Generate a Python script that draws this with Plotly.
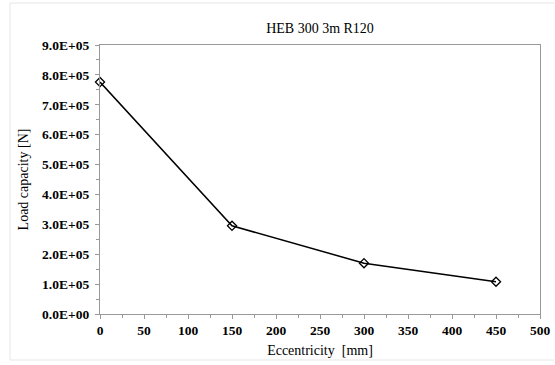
import plotly.graph_objects as go

eccentricity = [0, 150, 300, 450]
load_capacity = [7.76e5, 2.95e5, 1.70e5, 1.08e5]
x_ticks = [0, 50, 100, 150, 200, 250, 300, 350, 400, 450, 500]
y_ticks = [i * 1e5 for i in range(10)]
y_tick_labels = ["%.1fE+05" % (v / 1e5) if v > 0 else "0.0E+00" for v in y_ticks]

L, R, T, B = 100, 15, 45, 51
W, H = 555, 365
pw, ph = W - L - R, H - T - B

fig = go.Figure()
fig.add_trace(go.Scatter(
    x=eccentricity, y=load_capacity, mode="lines+markers",
    line=dict(color="black", width=1.5),
    marker=dict(symbol="diamond-open", size=7, color="black", line=dict(width=1.3)),
    showlegend=False, cliponaxis=False,
))

font_serif = "Liberation Serif"
axis_common = dict(
    showgrid=False, zeroline=False, showline=True, linecolor="#999999", linewidth=1.2,
    mirror=True, ticks="outside", ticklen=4, tickcolor="#999999", automargin=False,
    tickfont=dict(family=font_serif, size=13.5, color="black", weight="bold"),
)

fig.update_layout(
    width=W, height=H, autosize=False,
    margin=dict(l=L, r=R, t=T, b=B),
    paper_bgcolor="white", plot_bgcolor="white",
    font=dict(family=font_serif),
    title=dict(text="HEB 300 3m R120", x=(L + pw / 2) / W, xanchor="center",
               y=1 - 28 / H, yanchor="middle",
               font=dict(family=font_serif, size=14, color="black")),
    xaxis=dict(range=[0, 500], tickvals=x_ticks, ticktext=[str(v) for v in x_ticks],
               minor=dict(dtick=25, ticks="outside", ticklen=3, tickcolor="#999999"),
               title=dict(text="Eccentricity  [mm]", standoff=7,
                          font=dict(family=font_serif, size=14, color="black")),
               **axis_common),
    yaxis=dict(range=[0, 9e5], tickvals=y_ticks, ticktext=y_tick_labels,
               ticklabelstandoff=3,
               minor=dict(dtick=5e4, ticks="outside", ticklen=3, tickcolor="#999999"),
               title=dict(text="Load capacity [N]", standoff=10,
                          font=dict(family=font_serif, size=14, color="black")),
               **axis_common),
)

def px_x(p):
    return (p - L) / pw

def px_y(p):
    return 1 - (p - T) / ph

for x0, x1, y0, y1 in [(10, 10, 3, 360), (10, 554, 3, 3), (10, 554, 360, 360)]:
    fig.add_shape(type="line", xref="paper", yref="paper",
                  x0=px_x(x0), x1=px_x(x1), y0=px_y(y0), y1=px_y(y1),
                  line=dict(color="#e6e6e6", width=1))

fig.write_html("out.html", config={"displayModeBar": False},
               post_script="document.body.style.margin='0';")
